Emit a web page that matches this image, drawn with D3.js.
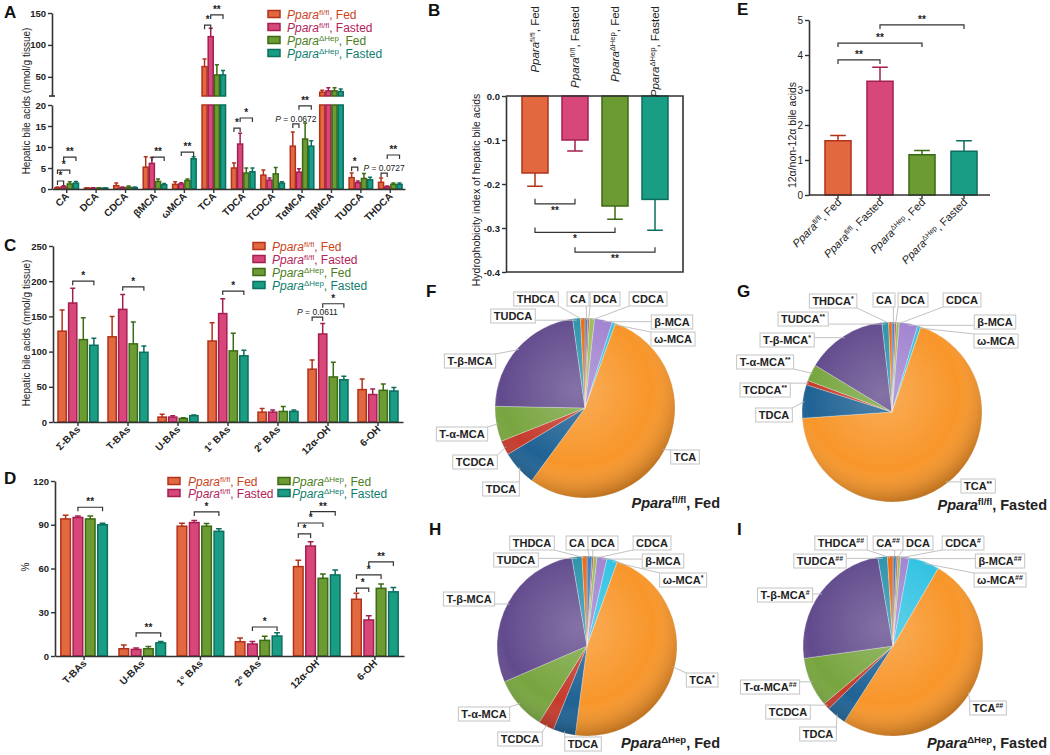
<!DOCTYPE html>
<html><head><meta charset="utf-8">
<script src="https://cdn.jsdelivr.net/npm/d3@7"></script>
<style>body{margin:0;background:#fff}svg{font-family:Arial,"Liberation Sans",Helvetica,sans-serif}</style>
</head><body>
<svg id="c" width="1050" height="755"></svg>
<script>
// ================= DATA =================
const seriesSup = ["fl/fl","fl/fl","\u0394Hep","\u0394Hep"];
const seriesCond = ["Fed","Fasted","Fed","Fasted"];

// Panel A (nmol/g tissue)
const aCategories = ["CA","DCA","CDCA","\u03b2MCA","\u03c9MCA","TCA","TDCA","TCDCA","T\u03b1MCA","T\u03b2MCA","TUDCA","THDCA"];
const aFlFed      = [0.3,0.2,0.8,5.2,1.1,66,5.0,3.3,10.2,26,2.7,1.6];
const aFlFedErr   = [0.2,0.1,0.6,2.5,0.6,12,1.2,1.2,3.4,3,1.1,1.0];
const aFlFast     = [0.5,0.2,0.3,6.1,1.2,113,10.7,2.1,4.0,28,1.5,0.5];
const aFlFastErr  = [0.3,0.1,0.2,1.4,0.3,13,2.6,0.5,0.8,5,0.4,0.2];
const aHepFed     = [1.2,0.2,0.4,1.8,2.0,53,3.8,3.6,11.9,28,2.5,1.1];
const aHepFedErr  = [0.5,0.1,0.3,0.6,0.4,16,1.2,1.5,3.8,5,1.2,0.3];
const aHepFast    = [1.4,0.2,0.3,1.0,7.2,53,4.1,1.4,10.2,27,2.2,1.1];
const aHepFastErr = [0.4,0.1,0.2,0.3,0.5,7,0.9,0.3,1.3,4,0.6,0.3];
const aLowTicks = [0,5,10,15,20];
const aHighTicks = [50,100,150];
const aSig = [
  {cat:"CA",a:0,b:1,y:1.9,t:"*"},{cat:"CA",a:0,b:2,y:4.5,t:"*"},{cat:"CA",a:1,b:3,y:7.6,t:"**"},
  {cat:"\u03b2MCA",a:1,b:3,y:7.6,t:"**"},{cat:"\u03c9MCA",a:1,b:3,y:8.8,t:"**"},
  {cat:"TCA",a:0,b:1,y:131,t:"*"},{cat:"TCA",a:1,b:3,y:147,t:"**"},
  {cat:"TDCA",a:0,b:1,y:14.5,t:"*"},{cat:"TDCA",a:1,b:3,y:16.9,t:"*"},
  {cat:"T\u03b1MCA",a:0,b:1,y:15.5,t:"P = 0.0672"},{cat:"T\u03b1MCA",a:1,b:3,y:19.8,t:"**"},
  {cat:"TUDCA",a:0,b:1,y:5.2,t:"*"},
  {cat:"THDCA",a:0,b:1,y:3.8,t:"P = 0.0727"},{cat:"THDCA",a:1,b:3,y:8.1,t:"**"}
];

// Panel B (hydrophobicity index)
const bValues = [-0.175,-0.10,-0.25,-0.235];
const bErr    = [0.03,0.025,0.03,0.07];
const bTicks  = [0,-0.1,-0.2,-0.3,-0.4];
const bSig = [{a:0,b:1,y:-0.245,t:"**"},{a:0,b:2,y:-0.31,t:"*"},{a:1,b:3,y:-0.355,t:"**"}];

// Panel E (12a / non-12a)
const eValues = [1.55,3.25,1.15,1.25];
const eErr    = [0.15,0.4,0.12,0.3];
const eTicks  = [0,1,2,3,4,5];
const eSig = [{a:0,b:1,y:3.86,t:"**"},{a:0,b:2,y:4.34,t:"**"},{a:1,b:3,y:4.86,t:"**"}];

// Panel C (nmol/g tissue)
const cCategories = ["\u03a3-BAs","T-BAs","U-BAs","1\u00b0 BAs","2\u00b0 BAs","12\u03b1-OH","6-OH"];
const cFlFed      = [129,121,7,115,14,75,46];
const cFlFedErr   = [30,29,4,26,5,13,15];
const cFlFast     = [169,160,7,154,14,125,39];
const cFlFastErr  = [21,21,2,21,3,15,8];
const cHepFed     = [117,111,5,101,15,64,45];
const cHepFedErr  = [31,31,1,25,7,21,9];
const cHepFast    = [109,99,9,94,15,60,44];
const cHepFastErr = [10,9,1,8,2,5,5];
const cTicks = [0,50,100,150,200,250];
const cSig = [
  {cat:"\u03a3-BAs",a:1,b:3,y:200,t:"*"},{cat:"T-BAs",a:1,b:3,y:192,t:"*"},
  {cat:"1\u00b0 BAs",a:1,b:3,y:186,t:"*"},
  {cat:"12\u03b1-OH",a:0,b:1,y:149,t:"P = 0.0611"},{cat:"12\u03b1-OH",a:1,b:3,y:168,t:"*"}
];

// Panel D (%)
const dCategories = ["T-BAs","U-BAs","1\u00b0 BAs","2\u00b0 BAs","12\u03b1-OH","6-OH"];
const dFlFed      = [94,5,89,9.8,61.3,38.9];
const dFlFedErr   = [2.5,2.5,2,2.5,4.3,4.1];
const dFlFast     = [95,4.5,91.5,8.2,75.4,24.7];
const dFlFastErr  = [1,1,1.5,1.8,3,2.9];
const dHepFed     = [94,5,89,10.7,53.3,46.4];
const dHepFedErr  = [2,1.5,1.8,2.8,2.9,3];
const dHepFast    = [90,9,85.5,13.7,55.6,44];
const dHepFastErr = [1,1,1.8,2.3,3.4,3];
const dTicks = [0,30,60,90,120];
const dSig = [
  {cat:"T-BAs",a:1,b:3,y:102,t:"**"},{cat:"U-BAs",a:1,b:3,y:15.8,t:"**"},
  {cat:"1\u00b0 BAs",a:1,b:3,y:98.8,t:"*"},{cat:"2\u00b0 BAs",a:1,b:3,y:19.9,t:"*"},
  {cat:"12\u03b1-OH",a:0,b:1,y:83.7,t:"*"},{cat:"12\u03b1-OH",a:0,b:2,y:91.2,t:"*"},{cat:"12\u03b1-OH",a:1,b:3,y:99,t:"**"},
  {cat:"6-OH",a:0,b:1,y:46.6,t:"*"},{cat:"6-OH",a:0,b:2,y:55.6,t:"*"},{cat:"6-OH",a:1,b:3,y:64.5,t:"**"}
];

// Pies F-I (% composition)
const pieLabels = ["CA","DCA","CDCA","\u03b2-MCA","\u03c9-MCA","TCA","TDCA","TCDCA","T-\u03b1-MCA","T-\u03b2-MCA","TUDCA","THDCA"];
const fShares = [0.5,0.3,0.9,3.2,0.6,54.6,6.3,2.6,6.3,22.5,1.4,0.8];
const gShares = [0.5,0.3,0.5,3.3,0.6,68.7,6.0,0.8,3.0,14.5,1.2,0.6];
const hShares = [0.9,0.3,0.6,1.8,1.9,46.6,4.0,2.8,9.6,28.8,1.8,0.9];
const iShares = [0.6,0.3,0.5,1.5,5.5,50.7,3.6,1.2,8.9,24.5,1.7,1.0];
const fMarks = ["","","","","","","","","","","",""];
const gMarks = ["","","","","","**","","**","**","*","**","*"];
const hMarks = ["","","","","*","*","","","","","",""];
const iMarks = ["##","","#","##","##","##","","","##","#","##","##"];

// ================= STYLE / LAYOUT =================
const fills   = ["#e2683f","#d8477a","#6b9b32","#1a9d85"];
const strokes = ["#b3321a","#a31f52","#3d6a14","#0b6e5e"];
const legCols = ["#c9441c","#b32459","#4b7d1c","#0f7d6d"];
const pieColors = ["#3f7fc4","#c0504d","#9bbb59","#a285d1","#34c3e3","#f8962a","#1f6294","#c53b2d","#78a53f","#624b8d","#2b93ab","#ec6a13"];
const AX = "#333";

const svg = d3.select("#c");
const defs = svg.append("defs");

function ppara(t, i, cond) {
  t.append("tspan").attr("font-style","italic").text("Ppara");
  t.append("tspan").attr("font-size","0.66em").attr("dy","-0.48em").text(seriesSup[i]);
  t.append("tspan").attr("dy","0.317em").text(", " + (cond || seriesCond[i]));
}
function panelLetter(x, y, s) {
  svg.append("text").attr("x",x).attr("y",y).attr("font-size",17).attr("font-weight","bold").attr("fill","#111").text(s);
}
function yTitle(x, y, s, size) {
  svg.append("text").attr("transform",`translate(${x},${y}) rotate(-90)`).attr("text-anchor","middle")
    .attr("font-size",size||10).attr("fill","#222").text(s);
}
function styleAxis(g, bold, size) {
  g.select(".domain").attr("stroke",AX).attr("stroke-width",1.6);
  g.selectAll(".tick line").attr("stroke",AX).attr("stroke-width",1.4);
  g.selectAll(".tick text").attr("fill","#222").attr("font-size",size||9.5).attr("font-weight",bold?"bold":"normal").attr("font-family","Arial,'Liberation Sans',sans-serif");
}
function drawBracket(g, x1, x2, y, t, up) {
  const d = up ? 5 : 4;
  g.append("path").attr("d", up ? `M${x1},${y-d}V${y}H${x2}V${y-d}` : `M${x1},${y+d}V${y}H${x2}V${y+d}`)
    .attr("fill","none").attr("stroke",AX).attr("stroke-width",1.2);
  const tx = g.append("text").attr("x",(x1+x2)/2).attr("y", up ? y+10 : y-2).attr("text-anchor","middle").attr("fill","#222");
  if (t.startsWith("P")) {
    tx.attr("font-size",8.5);
    tx.append("tspan").attr("font-style","italic").text("P");
    tx.append("tspan").text(t.slice(1));
  } else {
    tx.attr("font-size",10).attr("font-weight","bold").text(t);
  }
}
function barWithErr(g, x, w, y0, yv, yerr, i) {
  g.append("rect").attr("x",x).attr("width",w).attr("y",Math.min(y0,yv)).attr("height",Math.abs(y0-yv))
    .attr("fill",fills[i]).attr("stroke",strokes[i]).attr("stroke-width",1.5);
  const cx = x + w/2, cw = Math.max(w*0.3, 2);
  g.append("path").attr("d",`M${cx},${yv}V${yerr}M${cx-cw},${yerr}H${cx+cw}`).attr("fill","none")
    .attr("stroke",strokes[i]).attr("stroke-width",1.5);
}
function legend(x, ys, ids, textX, size) {
  ids.forEach((i, k) => {
    svg.append("rect").attr("x",x).attr("y",ys[k]-3.5).attr("width",12).attr("height",7)
      .attr("fill",fills[i]).attr("stroke",strokes[i]).attr("stroke-width",1.5);
    const t = svg.append("text").attr("x",textX).attr("y",ys[k]+4.5).attr("font-size",size).attr("fill",legCols[i]);
    ppara(t, i);
  });
}
function catLabels(g, xs, y, labels, size, bold) {
  labels.forEach((l, k) => {
    g.append("text").attr("transform",`translate(${xs[k]+3},${y+8}) rotate(-45)`).attr("text-anchor","end")
      .attr("font-size",size).attr("font-weight",bold?"bold":"normal").attr("fill","#222").text(l);
  });
}

// generic grouped bar panel
function groupedPanel(cfg) {
  const g = svg.append("g");
  const x0 = d3.scaleBand().domain(cfg.cats).range(cfg.xr).paddingInner(0.2).paddingOuter(0.1);
  const x1 = d3.scaleBand().domain(d3.range(4)).range([0, x0.bandwidth()]).paddingInner(0.22);
  const y = d3.scaleLinear().domain(cfg.yd).range(cfg.yr);
  cfg.series.forEach((vals, i) => {
    vals.forEach((v, k) => {
      const c = cfg.cats[k];
      barWithErr(g, x0(c)+x1(i), x1.bandwidth(), y(0), y(v), y(v+cfg.errs[i][k]), i);
    });
  });
  const ya = g.append("g").attr("transform",`translate(${cfg.xr[0]},0)`)
    .call(d3.axisLeft(y).tickValues(cfg.ticks).tickSize(4).tickSizeOuter(0).tickPadding(2).tickFormat(d3.format("d")));
  styleAxis(ya, true, cfg.tickSize);
  const xa = g.append("g").attr("transform",`translate(0,${cfg.yr[0]})`)
    .call(d3.axisBottom(x0).tickSize(4).tickSizeOuter(0).tickFormat(""));
  styleAxis(xa, true);
  catLabels(g, cfg.cats.map(c => x0(c)+x0.bandwidth()/2), cfg.yr[0], cfg.cats, 10, true);
  cfg.sig.forEach(s => {
    const bx = i => x0(s.cat)+x1(i)+x1.bandwidth()/2;
    drawBracket(g, bx(s.a), bx(s.b), y(s.y), s.t, false);
  });
  return {x0, x1, y};
}

// ================= PANEL A (broken axis) =================
(function(){
  const g = svg.append("g");
  const x0 = d3.scaleBand().domain(aCategories).range([52,405]).paddingInner(0.2).paddingOuter(0.1);
  const x1 = d3.scaleBand().domain(d3.range(4)).range([0, x0.bandwidth()]).paddingInner(0.18);
  const yLow = d3.scaleLinear().domain([0,20]).range([189,105]);
  const yHigh = d3.scaleLinear().domain([20,150]).range([96,13]);
  const yA = v => v <= 20 ? yLow(v) : yHigh(v);
  const series = [aFlFed,aFlFast,aHepFed,aHepFast];
  const errs = [aFlFedErr,aFlFastErr,aHepFedErr,aHepFastErr];
  series.forEach((vals,i) => vals.forEach((v,k) => {
    const c = aCategories[k], x = x0(c)+x1(i), w = x1.bandwidth(), e = errs[i][k];
    g.append("rect").attr("x",x).attr("width",w).attr("y",yLow(Math.min(v,20))).attr("height",yLow(0)-yLow(Math.min(v,20)))
      .attr("fill",fills[i]).attr("stroke",strokes[i]).attr("stroke-width",1.5);
    if (v > 20) {
      g.append("rect").attr("x",x).attr("width",w).attr("y",yHigh(v)).attr("height",yHigh(20)-yHigh(v))
        .attr("fill",fills[i]).attr("stroke",strokes[i]).attr("stroke-width",1.5);
    }
    const cx = x+w/2, top = yA(v+e), cw = 2;
    g.append("path").attr("d",`M${cx},${yA(v)}V${top}M${cx-cw},${top}H${cx+cw}`).attr("fill","none")
      .attr("stroke",strokes[i]).attr("stroke-width",1.5);
  }));
  const ya1 = g.append("g").attr("transform","translate(52,0)")
    .call(d3.axisLeft(yLow).tickValues(aLowTicks).tickSize(4).tickSizeOuter(0).tickPadding(2).tickFormat(d3.format("d")));
  styleAxis(ya1,true);
  const ya2 = g.append("g").attr("transform","translate(52,0)")
    .call(d3.axisLeft(yHigh).tickValues(aHighTicks).tickSize(4).tickSizeOuter(0).tickPadding(2).tickFormat(d3.format("d")));
  styleAxis(ya2,true);
  g.append("path").attr("d","M49,96H55").attr("stroke",AX).attr("stroke-width",1.6);
  const xa = g.append("g").attr("transform","translate(0,189)")
    .call(d3.axisBottom(x0).tickSize(4).tickSizeOuter(0).tickFormat(""));
  styleAxis(xa,true);
  catLabels(g, aCategories.map(c => x0(c)+x0.bandwidth()/2), 189, aCategories, 10, true);
  aSig.forEach(s => {
    const bx = i => x0(s.cat)+x1(i)+x1.bandwidth()/2;
    drawBracket(g, bx(s.a), bx(s.b), yA(s.y), s.t, false);
  });
})();
panelLetter(4,18,"A");
yTitle(30,101,"Hepatic bile acids (nmol/g tissue)",10);
legend(268,[14,27,40,53],[0,1,2,3],287,12);

// ================= PANEL B =================
(function(){
  const g = svg.append("g");
  const x = d3.scaleBand().domain(d3.range(4)).range([515,675]).paddingInner(0.35).paddingOuter(0.175);
  const y = d3.scaleLinear().domain([-0.4,0]).range([272,96]);
  bValues.forEach((v,i) => barWithErr(g, x(i), x.bandwidth(), y(0), y(v), y(v-bErr[i]), i));
  g.append("path").attr("d","M506,96H683V272H506").attr("fill","none").attr("stroke",AX).attr("stroke-width",1.6);
  const ya = g.append("g").attr("transform","translate(506,0)")
    .call(d3.axisLeft(y).tickValues(bTicks).tickSize(4).tickSizeOuter(0).tickPadding(2)
      .tickFormat(d => (d < 0 ? "-" : "") + Math.abs(d).toFixed(1)));
  styleAxis(ya,true);
  bValues.forEach((v,i) => {
    const t = g.append("text").attr("transform",`translate(${x(i)+x.bandwidth()/2+4},6) rotate(-90)`)
      .attr("text-anchor","end").attr("font-size",11.5).attr("fill","#222");
    ppara(t,i);
  });
  bSig.forEach(s => drawBracket(g, x(s.a)+x.bandwidth()/2, x(s.b)+x.bandwidth()/2, y(s.y), s.t, true));
})();
panelLetter(428,16,"B");
yTitle(480,190,"Hydrophobicity index of hepatic bile acids",10.5);

// ================= PANEL E =================
(function(){
  const g = svg.append("g");
  const x = d3.scaleBand().domain(d3.range(4)).range([817,985]).paddingInner(0.38).paddingOuter(0.19);
  const y = d3.scaleLinear().domain([0,5]).range([195,20]);
  eValues.forEach((v,i) => barWithErr(g, x(i), x.bandwidth(), y(0), y(v), y(v+eErr[i]), i));
  const ya = g.append("g").attr("transform","translate(809,0)")
    .call(d3.axisLeft(y).tickValues(eTicks).tickSize(4).tickSizeOuter(0).tickPadding(2).tickFormat(d3.format("d")));
  styleAxis(ya,false,10);
  g.append("path").attr("d","M809,195H990").attr("stroke",AX).attr("stroke-width",1.6);
  eValues.forEach((v,i) => {
    const cx = x(i)+x.bandwidth()/2;
    g.append("path").attr("d",`M${cx},195V199`).attr("stroke",AX).attr("stroke-width",1.4);
    const t = g.append("text").attr("transform",`translate(${cx+4},${203}) rotate(-45)`)
      .attr("text-anchor","end").attr("font-size",11).attr("fill","#222");
    ppara(t,i);
  });
  eSig.forEach(s => drawBracket(g, x(s.a)+x.bandwidth()/2, x(s.b)+x.bandwidth()/2, y(s.y), s.t, false));
})();
panelLetter(737,15,"E");
yTitle(796,135,"12\u03b1/non-12\u03b1 bile acids",10.5);

// ================= PANEL C =================
groupedPanel({cats:cCategories, xr:[53,403], yd:[0,250], yr:[422,246], ticks:cTicks,
  series:[cFlFed,cFlFast,cHepFed,cHepFast], errs:[cFlFedErr,cFlFastErr,cHepFedErr,cHepFastErr], sig:cSig});
panelLetter(4,251,"C");
yTitle(30,333,"Hepatic bile acids (nmol/g tissue)",10);
legend(253,[246,259,272,285],[0,1,2,3],272,12);

// ================= PANEL D =================
groupedPanel({cats:dCategories, xr:[55,404], yd:[0,120], yr:[656,481], ticks:dTicks, tickSize:9.5,
  series:[dFlFed,dFlFast,dHepFed,dHepFast], errs:[dFlFedErr,dFlFastErr,dHepFedErr,dHepFastErr], sig:dSig});
panelLetter(4,484,"D");
yTitle(29,567,"%",10);
legend(168,[481,493],[0,1],188,12);
legend(278,[481,493],[2,3],292,12);

// ================= PIES =================
const shade = defs.append("radialGradient").attr("id","shade").attr("cx","45%").attr("cy","40%").attr("r","60%");
shade.append("stop").attr("offset","0%").attr("stop-color","#fff").attr("stop-opacity",0.22);
shade.append("stop").attr("offset","70%").attr("stop-color","#fff").attr("stop-opacity",0);
shade.append("stop").attr("offset","100%").attr("stop-color","#000").attr("stop-opacity",0.22);

const pieLayout = [
  {shares:fShares, marks:fMarks, c:[585,408], title:[720,508], tIdx:0,
   pos:[[578,299],[605,299],[648,299],[672,322],[673,339],[685,457],[501,489],[475,462],[462,434],[470,361],[513,316],[536,299]]},
  {shares:gShares, marks:gMarks, c:[892,412], title:[1047,510], tIdx:1,
   pos:[[884,300],[913,300],[962,300],[995,322],[996,341],[978,486],[774,415],[765,390],[765,362],[787,340],[803,319],[833,301]]},
  {shares:hShares, marks:hMarks, c:[587,646], title:[720,748], tIdx:2,
   pos:[[577,543],[603,543],[652,543],[663,561],[683,580],[702,680],[583,744],[520,739],[484,714],[469,599],[516,560],[532,543]]},
  {shares:iShares, marks:iMarks, c:[893,646], title:[1047,748], tIdx:3,
   pos:[[888,543],[918,543],[963,543],[1000,561],[1000,580],[988,708],[818,734],[788,712],[770,687],[785,595],[820,561],[841,543]]}
];
const R = 90;
pieLayout.forEach(P => {
  const g = svg.append("g");
  const arcs = d3.pie().sort(null).value(d => d)(P.shares);
  const arc = d3.arc().innerRadius(0).outerRadius(R);
  const pg = g.append("g").attr("transform",`translate(${P.c[0]},${P.c[1]})`);
  pg.selectAll("path").data(arcs).join("path").attr("d",arc).attr("fill",(d,i)=>pieColors[i])
    .attr("stroke","#fff").attr("stroke-opacity",0.45).attr("stroke-width",0.6);
  pg.append("circle").attr("r",R).attr("fill","url(#shade)");
  arcs.forEach((a,i) => {
    const lx = P.pos[i][0], ly = P.pos[i][1];
    const t = g.append("text").attr("x",lx).attr("y",ly+4).attr("text-anchor","middle")
      .attr("font-size",11).attr("font-weight","bold").attr("fill","#222");
    t.append("tspan").text(pieLabels[i]);
    if (P.marks[i]) t.append("tspan").attr("font-size",7).attr("dy","-0.6em").text(P.marks[i]);
    const bb = t.node().getBBox();
    const bx = bb.x-3, by = ly-7, bw = bb.width+6, bh = 14;
    const ang = (a.startAngle + a.endAngle)/2;
    const px = P.c[0] + Math.sin(ang)*R*0.98, py = P.c[1] - Math.cos(ang)*R*0.98;
    const sx = Math.max(bx, Math.min(px, bx+bw)), sy = Math.max(by, Math.min(py, by+bh));
    g.insert("path", "text").attr("d",`M${sx},${sy}L${px},${py}`).attr("stroke","#bbb").attr("stroke-width",0.9).attr("fill","none");
    g.insert("rect", "text").attr("x",bx).attr("y",by).attr("width",bw).attr("height",bh)
      .attr("fill","#fff").attr("stroke","#c4c4c4").attr("stroke-width",1);
  });
  const tt = g.append("text").attr("x",P.title[0]).attr("y",P.title[1]).attr("text-anchor","end")
    .attr("font-size",14.5).attr("font-weight","bold").attr("fill","#222");
  ppara(tt, P.tIdx);
});
panelLetter(426,297,"F");
panelLetter(737,297,"G");
panelLetter(429,535,"H");
panelLetter(737,535,"I");
</script>
</body></html>
